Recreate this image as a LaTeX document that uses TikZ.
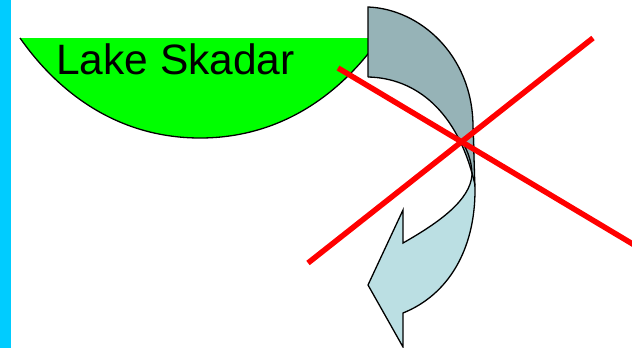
\documentclass[tikz,border=0pt]{standalone}
\usepackage{fontspec}
\setmainfont{Liberation Sans}
\definecolor{barcyan}{RGB}{0,204,255}
\definecolor{lakegreen}{RGB}{0,255,0}
\definecolor{arrowdark}{RGB}{150,179,183}
\definecolor{arrowlight}{RGB}{187,223,227}
\begin{document}
\begin{tikzpicture}[x=1pt,y=-1pt,
  outline/.style={draw=black,line width=1.3pt,line join=miter},
  crossline/.style={draw=red,line width=5.5pt},
  laketext/.style={inner sep=0pt,anchor=base west,font=\fontsize{42.5}{50}\selectfont}]
\useasboundingbox (0,0) rectangle (632,348);
% left bar
\fill[barcyan] (0,0) rectangle (11,348);
% lake
\fill[lakegreen] (20,38) .. controls (60,95) and (120,138) .. (200,138)
  .. controls (280,138) and (340,95) .. (380,38) -- cycle;
\draw[outline] (20,38) .. controls (60,95) and (120,138) .. (200,138)
  .. controls (280,138) and (340,95) .. (380,38);
\node[laketext] (lake) at (56,74) {Lake Skadar};
% curved arrow: light front part
\fill[arrowlight] (459,138) -- (475,138) -- (475,190)
  .. controls (475,250) and (448,295) .. (403,313)
  -- (403,347) -- (368,285) -- (403,210) -- (403,243)
  .. controls (440,222) and (470,200) .. (472,175)
  .. controls (472,160) and (466,146) .. (459,138) -- cycle;
% dark back part
\fill[arrowdark] (368,7) .. controls (420,9) and (472,55) .. (473,125)
  -- (475,185) .. controls (458,110) and (415,78) .. (368,77) -- cycle;
% outlines
\draw[outline] (368,77) -- (368,7) .. controls (420,9) and (472,55) .. (473,125)
  -- (475,190) .. controls (475,250) and (448,295) .. (403,313)
  -- (403,347) -- (368,285) -- (403,210) -- (403,243)
  .. controls (440,222) and (470,200) .. (472,175)
  .. controls (472,160) and (466,146) .. (459,138);
\draw[outline] (368,77) .. controls (415,78) and (458,110) .. (475,185);
% red cross
\coordinate (r1a) at (338,68);
\coordinate (r1b) at (636,246);
\coordinate (r2a) at (308,263);
\coordinate (r2b) at (593,38);
\draw[crossline] (r1a) -- (r1b);
\draw[crossline] (r2a) -- (r2b);
\end{tikzpicture}
\end{document}
